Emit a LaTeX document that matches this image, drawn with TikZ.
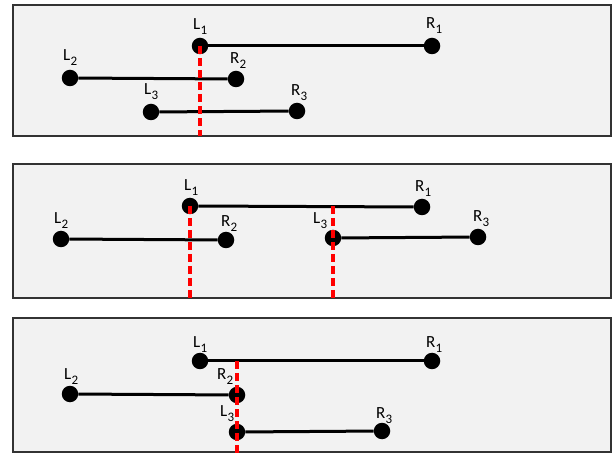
\documentclass[tikz,border=0pt]{standalone}
\usepackage{fontspec}
\setmainfont{Carlito}
\usetikzlibrary{calc}
\newcommand\seglab[2]{#1\kern0.3pt\raisebox{-5pt}{\fontsize{13}{13}\selectfont #2}}
\begin{document}
\begin{tikzpicture}[x=1pt,y=-1pt,
  panel/.style={draw=black!80, line width=1.5pt, fill=black!5},
  endpt/.style={circle, fill=black, inner sep=0pt, minimum size=16.5pt},
  seg/.style={line width=3pt, black},
  sweep/.style={line width=3.5pt, red, dash pattern=on 8pt off 4pt},
  lab/.style={anchor=base west, inner sep=0pt, font=\fontsize{17}{17}\selectfont}]
\useasboundingbox (0,0) rectangle (616,454);

% ---------- panel 1 ----------
\draw[panel] (13,5) rectangle (611,136);
\coordinate (aBot) at (0,136);
\node[endpt] (aL1) at (200,46) {};
\node[endpt] (aR1) at (432,46) {};
\node[endpt] (aL2) at (70,78) {};
\node[endpt] (aR2) at (236,79) {};
\node[endpt] (aL3) at (151,112) {};
\node[endpt] (aR3) at (297,111) {};
\draw[seg] (aL1) -- (aR1);
\draw[seg] (aL2) -- (aR2);
\draw[seg] (aL3) -- (aR3);
\node[lab] (taL1) at ($(aL1)+(-7,-16)$) {\seglab{L}{1}};
\node[lab] (taR1) at ($(aR1)+(-6,-17)$) {\seglab{R}{1}};
\node[lab] (taL2) at ($(aL2)+(-7,-17)$) {\seglab{L}{2}};
\node[lab] (taR2) at ($(aR2)+(-6,-15)$) {\seglab{R}{2}};
\node[lab] (taL3) at ($(aL3)+(-7,-17)$) {\seglab{L}{3}};
\node[lab] (taR3) at ($(aR3)+(-6,-15)$) {\seglab{R}{3}};
\draw[sweep] (aL1.center) -- (aL1.center |- aBot);

% ---------- panel 2 ----------
\draw[panel] (13,164) rectangle (611,298);
\coordinate (bBot) at (0,298);
\node[endpt] (bL1) at (190,206) {};
\node[endpt] (bR1) at (422,207) {};
\node[endpt] (bL2) at (61,239) {};
\node[endpt] (bR2) at (226,240) {};
\node[endpt] (bL3) at (333,238) {};
\node[endpt] (bR3) at (478,237) {};
\draw[seg] (bL1) -- (bR1);
\draw[seg] (bL2) -- (bR2);
\draw[seg] (bL3) -- (bR3);
\node[lab] (tbL1) at ($(bL1)+(-6,-15)$) {\seglab{L}{1}};
\node[lab] (tbR1) at ($(bR1)+(-7,-15)$) {\seglab{R}{1}};
\node[lab] (tbL2) at ($(bL2)+(-7,-15)$) {\seglab{L}{2}};
\node[lab] (tbR2) at ($(bR2)+(-5,-13)$) {\seglab{R}{2}};
\node[lab] (tbL3) at ($(bL3)+(-20,-14)$) {\seglab{L}{3}};
\node[lab] (tbR3) at ($(bR3)+(-5,-15)$) {\seglab{R}{3}};
\draw[sweep] (bL1.center) -- (bL1.center |- bBot);
\draw[sweep] (bL3.center |- bL1.center) -- (bL3.center |- bBot);

% ---------- panel 3 ----------
\draw[panel] (13,318) rectangle (611,452);
\coordinate (cBot) at (0,454);
\node[endpt] (cL1) at (200,361) {};
\node[endpt] (cR1) at (432,361) {};
\node[endpt] (cL2) at (70,394) {};
\node[endpt] (cR2) at (237,395) {};
\node[endpt] (cL3) at (237,432) {};
\node[endpt] (cR3) at (382,431) {};
\draw[seg] (cL1) -- (cR1);
\draw[seg] (cL2) -- (cR2);
\draw[seg] (cL3) -- (cR3);
\node[lab] (tcL1) at ($(cL1)+(-7,-13)$) {\seglab{L}{1}};
\node[lab] (tcR1) at ($(cR1)+(-6,-13)$) {\seglab{R}{1}};
\node[lab] (tcL2) at ($(cL2)+(-6,-14)$) {\seglab{L}{2}};
\node[lab] (tcR2) at ($(cR2)+(-20,-15)$) {\seglab{R}{2}};
\node[lab] (tcL3) at ($(cL3)+(-17,-15)$) {\seglab{L}{3}};
\node[lab] (tcR3) at ($(cR3)+(-6,-13)$) {\seglab{R}{3}};
\draw[sweep] (cL3.center |- cL1.center) -- (cL3.center |- cBot);
\end{tikzpicture}
\end{document}
